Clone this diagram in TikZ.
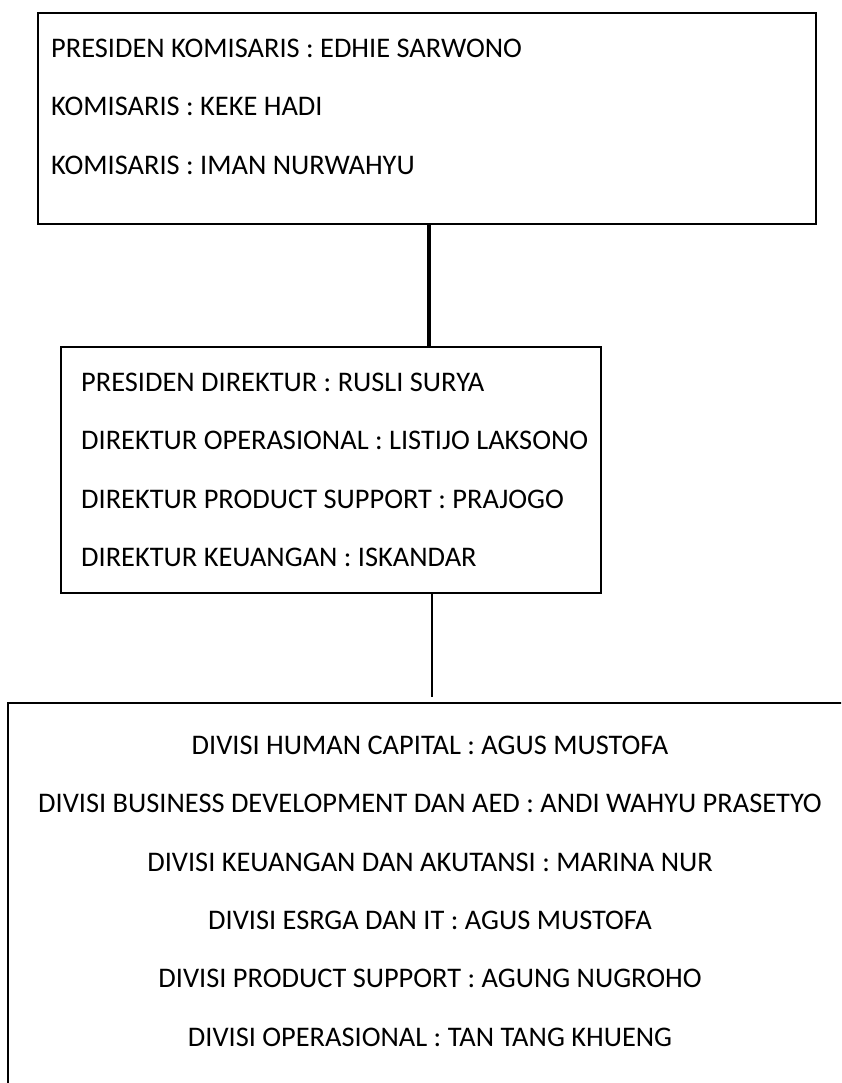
\documentclass[tikz,border=0pt]{standalone}
\usepackage{fontspec}
\setmainfont{Carlito}
\usetikzlibrary{positioning}
\tikzset{
        % Boxes of the chart
        boardbox/.style={draw=black, line width=2pt, inner sep=0pt, anchor=north west},
        % One line of names
        entry/.style={inner sep=0pt, text height=18.5pt, text depth=0pt, font=\fontsize{28.4}{34}\selectfont},
        % Connectors
        link_thick/.style={line width=4pt},
        link_thin/.style={line width=1.2pt}
}
\begin{document}
\begin{tikzpicture}[x=1pt, y=1pt, node distance=39.5pt]
            \clip (0,0) rectangle (841,-1083);
            % the three boxes
            \node[boardbox, minimum width=778pt, minimum height=211pt] (komisaris) at (37,-12) {};
            \node[boardbox, minimum width=540pt, minimum height=246pt] (direksi) at (60,-346) {};
            \node[boardbox, minimum width=850pt, minimum height=420pt] (divisi) at (7,-702) {};
            % board of commissioners
            \node[entry, anchor=west] (k1) at ([xshift=14pt, yshift=-36pt]komisaris.north west) {PRESIDEN KOMISARIS : EDHIE SARWONO};
            \node[entry, below=of k1.south west, anchor=north west] (k2) {KOMISARIS : KEKE HADI};
            \node[entry, below=of k2.south west, anchor=north west] (k3) {KOMISARIS : IMAN NURWAHYU};
            % board of directors
            \node[entry, anchor=west] (r1) at ([xshift=21pt, yshift=-36pt]direksi.north west) {PRESIDEN DIREKTUR : RUSLI SURYA};
            \node[entry, below=of r1.south west, anchor=north west] (r2) {DIREKTUR OPERASIONAL : LISTIJO LAKSONO};
            \node[entry, below=of r2.south west, anchor=north west] (r3) {DIREKTUR PRODUCT SUPPORT : PRAJOGO};
            \node[entry, below=of r3.south west, anchor=north west] (r4) {DIREKTUR KEUANGAN : ISKANDAR};
            % divisions
            \node[entry] (v1) at ([xshift=-3pt, yshift=-43pt]divisi.north) {DIVISI HUMAN CAPITAL : AGUS MUSTOFA};
            \node[entry, below=of v1] (v2) {DIVISI BUSINESS DEVELOPMENT DAN AED : ANDI WAHYU PRASETYO};
            \node[entry, below=of v2] (v3) {DIVISI KEUANGAN DAN AKUTANSI : MARINA NUR};
            \node[entry, below=of v3] (v4) {DIVISI ESRGA DAN IT : AGUS MUSTOFA};
            \node[entry, below=of v4] (v5) {DIVISI PRODUCT SUPPORT : AGUNG NUGROHO};
            \node[entry, below=of v5] (v6) {DIVISI OPERASIONAL : TAN TANG KHUENG};
            % connectors
            \coordinate (tap) at ([xshift=-1pt, yshift=5pt]divisi.north);
            \draw[link_thick] ([xshift=2pt]komisaris.south) -- ([xshift=2pt]komisaris.south |- direksi.north);
            \draw[link_thin] (direksi.south -| tap) -- (tap);
\end{tikzpicture}
\end{document}
